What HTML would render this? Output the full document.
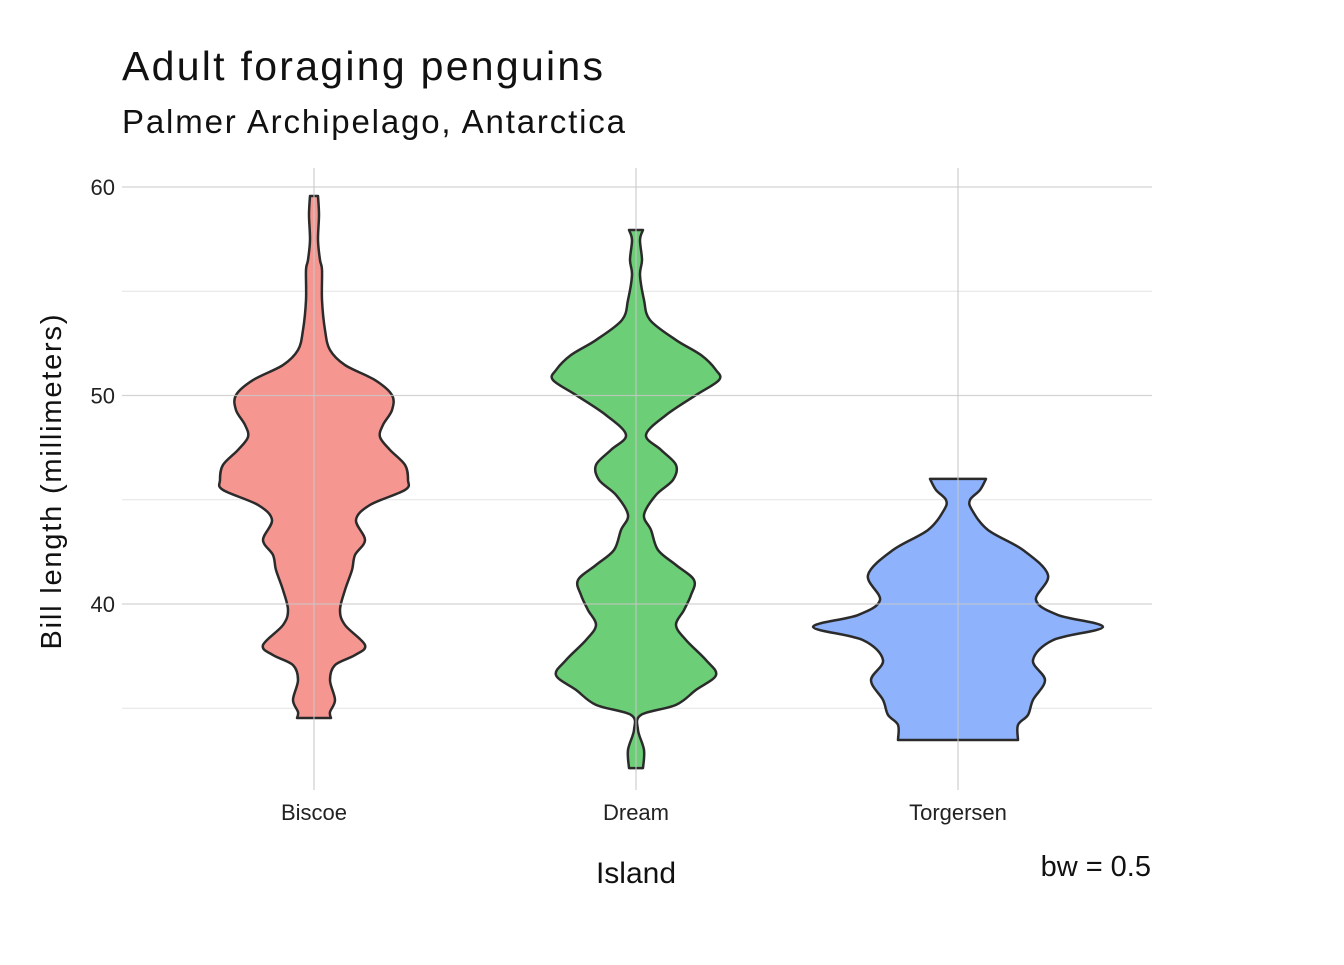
<!DOCTYPE html>
<html><head><meta charset="utf-8"><style>
body{margin:0;background:#fff;}
svg text{font-family:"Liberation Sans",sans-serif;}
</style></head><body>
<svg id="chart" width="1344" height="960" viewBox="0 0 1344 960" xmlns="http://www.w3.org/2000/svg">
<text x="122" y="80" font-size="41" textLength="481" fill="#111">Adult foraging penguins</text>
<text x="122" y="133" font-size="33" textLength="503" fill="#111">Palmer Archipelago, Antarctica</text>
<g id="grid"></g>
<g id="violins"></g>
<g id="axes"></g>
<text x="636" y="883" font-size="30" text-anchor="middle" fill="#111">Island</text>
<text transform="translate(61,482) rotate(-90)" font-size="29" textLength="335" text-anchor="middle" fill="#111">Bill length (millimeters)</text>
<text x="1151" y="876" font-size="29" text-anchor="end" fill="#111">bw = 0.5</text>
</svg>
<script>
const categories = ["Biscoe","Dream","Torgersen"];
const colors = ["#F6908B","#64CB6F","#88AEFC"];
const yTicks = [40,50,60];
const yMinor = [35,45,55];
const biscoeY = [59.57,58.66,57.46,56.50,56.02,54.58,53.14,52.18,51.46,50.74,50.02,49.30,48.59,48.01,47.39,46.67,45.95,45.47,44.75,44.03,43.07,42.35,41.63,40.67,39.71,38.99,38.03,37.55,37.07,36.35,35.40,34.82,34.53];
const biscoeW = [0.04,0.05,0.04,0.06,0.08,0.08,0.11,0.16,0.31,0.61,0.78,0.78,0.69,0.66,0.76,0.91,0.94,0.91,0.56,0.42,0.51,0.41,0.38,0.31,0.26,0.31,0.51,0.41,0.21,0.16,0.21,0.16,0.17];
const dreamY = [57.94,57.46,56.50,55.78,54.58,53.62,52.66,51.94,51.22,50.74,50.02,49.06,48.11,47.39,46.67,45.95,45.23,44.27,43.55,42.59,41.87,41.15,40.43,39.71,38.99,38.27,37.31,36.59,35.88,35.16,34.68,33.96,33.00,32.13];
const dreamW = [0.07,0.04,0.06,0.04,0.08,0.14,0.40,0.65,0.80,0.83,0.60,0.30,0.10,0.25,0.40,0.37,0.20,0.08,0.15,0.22,0.40,0.58,0.55,0.48,0.40,0.50,0.70,0.80,0.60,0.40,0.05,0.02,0.08,0.07];
const torgY = [46.0,45.47,44.99,44.51,43.55,42.59,41.39,40.19,39.47,38.90,38.27,37.31,36.35,35.40,34.68,34.20,33.48];
const torgW = [0.28,0.22,0.12,0.14,0.30,0.65,0.90,0.78,1.00,1.45,0.95,0.75,0.87,0.75,0.70,0.60,0.60];
const seriesY = [biscoeY, dreamY, torgY];
const seriesW = [biscoeW, dreamW, torgW];

const NS="http://www.w3.org/2000/svg";
const plotL=122,plotR=1152,plotT=168,plotB=790;
function yScale(v){return 604-(v-40)*20.85;}
function xScale(i){return 314+i*322;}
function wScale(w){return w*100;}
function mk(t,a,p){const e=document.createElementNS(NS,t);for(const k in a)e.setAttribute(k,a[k]);p.appendChild(e);return e;}
const grid=document.getElementById('grid'),vg=document.getElementById('violins'),ax=document.getElementById('axes');
yMinor.forEach(v=>{const l=mk('line',{x1:plotL,x2:plotR,y1:yScale(v),y2:yScale(v),stroke:'#e3e3e3','stroke-width':1},grid);

});
function spline(pts){let d='M'+pts[0][0]+','+pts[0][1];for(let i=0;i<pts.length-1;i++){const p0=pts[i-1]||pts[i],p1=pts[i],p2=pts[i+1],p3=pts[i+2]||p2;
const c1=[p1[0]+(p2[0]-p0[0])/6,p1[1]+(p2[1]-p0[1])/6],c2=[p2[0]-(p3[0]-p1[0])/6,p2[1]-(p3[1]-p1[1])/6];
d+=' C'+c1.join(',')+' '+c2.join(',')+' '+p2.join(',');}return d;}
categories.forEach((c,i)=>{const cx=xScale(i),ys=seriesY[i],ws=seriesW[i];
const r=ys.map((v,j)=>[cx+wScale(ws[j]),yScale(v)]);
const l=ys.map((v,j)=>[cx-wScale(ws[j]),yScale(v)]).reverse();
let d=spline(r);const ld=spline(l);d+=' L'+ld.slice(1)+' Z';
const p=mk('path',{d:d,fill:colors[i],'fill-opacity':0.95,stroke:'#2b2b2b','stroke-width':2.5,'stroke-linejoin':'round'},vg);


const t=mk('text',{x:cx,y:820,'font-size':22,'text-anchor':'middle',fill:'#222'},ax);t.textContent=c;

});
yTicks.forEach(v=>{const l=mk('line',{x1:plotL,x2:plotR,y1:yScale(v),y2:yScale(v),stroke:'#c8c8c8','stroke-width':1.3,'stroke-opacity':0.8},ax);


const t=mk('text',{x:115,y:yScale(v)+8,'font-size':22,'text-anchor':'end',fill:'#222'},ax);t.textContent=v;

});
categories.forEach((c,i)=>{const l=mk('line',{x1:xScale(i),x2:xScale(i),y1:plotT,y2:plotB,stroke:'#c8c8c8','stroke-width':1.3,'stroke-opacity':0.8},ax);

});
</script>
</body></html>
